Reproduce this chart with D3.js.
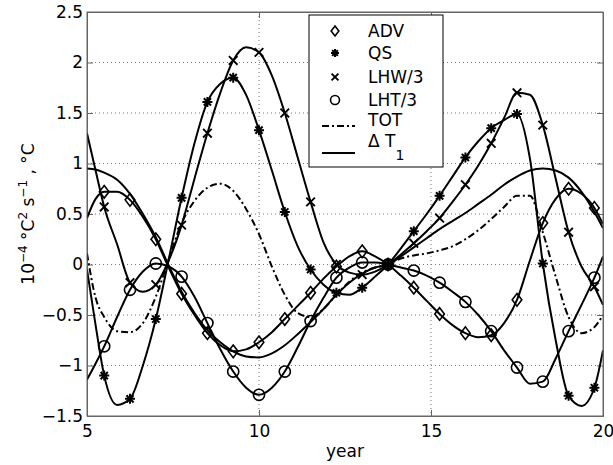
<!DOCTYPE html>
<html lang="en">
<head>
    <meta charset="UTF-8">
    <title>Budget terms vs year</title>
    <style>
        body { margin: 0; background: #fff; }
        svg text { font-family: "DejaVu Sans", sans-serif; fill: #000; }
        .grid line { stroke: #777; stroke-width: 1; stroke-dasharray: 1,3; }
        .axis path, .axis line { stroke: #666; }
        .curve { fill: none; stroke: #000; stroke-width: 2; }
        .mark { fill: none; stroke: #000; stroke-width: 1.6; }
    </style>
</head>
<body>
    <svg width="613" height="465"></svg>
    <script src="https://d3js.org/d3.v7.min.js"></script>
    <script>
        // years sampled along the curves; markers sit every 0.75 yr from 5.5
        const years = [5, 5.25, 5.5, 5.875, 6.25, 6.625, 7, 7.375, 7.75, 8.125, 8.5, 8.875, 9.25, 9.625,
                       10, 10.375, 10.75, 11.125, 11.5, 11.875, 12.25, 12.625, 13, 13.375, 13.75, 14.125,
                       14.5, 14.875, 15.25, 15.625, 16, 16.375, 16.75, 17.125, 17.5, 17.875, 18.25, 18.625,
                       19, 19.375, 19.75, 20];

        const adv = [0.46, 0.65, 0.72, 0.72, 0.64, 0.47, 0.25, -0.03, -0.29, -0.5, -0.68, -0.8, -0.86, -0.84,
                     -0.77, -0.67, -0.54, -0.41, -0.28, -0.14, -0.02, 0.08, 0.13, 0.08, 0, -0.11,
                     -0.23, -0.36, -0.49, -0.6, -0.68, -0.72, -0.7, -0.58, -0.35, 0.04, 0.41, 0.65,
                     0.75, 0.7, 0.56, 0.4];
        const qs = [-0.05, -0.6, -1.1, -1.39, -1.33, -1.0, -0.54, 0.05, 0.66, 1.2, 1.61, 1.79, 1.85, 1.68,
                    1.33, 0.93, 0.52, 0.18, -0.05, -0.2, -0.28, -0.3, -0.23, -0.12, 0, 0.16,
                    0.33, 0.5, 0.68, 0.87, 1.06, 1.22, 1.35, 1.43, 1.49, 1.05, 0.01, -0.75,
                    -1.3, -1.4, -1.22, -0.85];
        const lhw = [1.3, 0.93, 0.57, 0.2, -0.18, -0.27, -0.2, 0.04, 0.39, 0.85, 1.3, 1.7, 2.02, 2.15,
                     2.1, 1.87, 1.5, 1.06, 0.62, 0.22, 0.0, -0.08, -0.1, -0.07, 0, 0.1,
                     0.21, 0.33, 0.46, 0.62, 0.79, 0.98, 1.2, 1.45, 1.7, 1.68, 1.38, 0.85,
                     0.32, -0.02, -0.22, -0.4];
        const lht = [-1.14, -0.98, -0.81, -0.52, -0.25, -0.07, 0.01, -0.02, -0.12, -0.32, -0.58, -0.84, -1.06, -1.22,
                     -1.29, -1.22, -1.06, -0.82, -0.56, -0.33, -0.13, -0.03, 0.02, 0.02, 0, -0.03,
                     -0.06, -0.11, -0.18, -0.27, -0.37, -0.5, -0.66, -0.85, -1.02, -1.18, -1.16, -0.93,
                     -0.66, -0.4, -0.13, 0.08];
        const tot = [0.11, -0.33, -0.52, -0.66, -0.67, -0.58, -0.32, 0.05, 0.41, 0.63, 0.76, 0.8, 0.73, 0.55,
                     0.3, -0.02, -0.3, -0.48, -0.52, -0.44, -0.3, -0.17, -0.08, -0.03, 0, 0.06,
                     0.09, 0.11, 0.14, 0.18, 0.25, 0.34, 0.45, 0.57, 0.68, 0.68, 0.32, -0.12,
                     -0.52, -0.68, -0.62, -0.5];
        const dT1 = [0.95, 0.94, 0.91, 0.84, 0.7, 0.5, 0.27, -0.01, -0.27, -0.48, -0.65, -0.77, -0.86, -0.91,
                     -0.92, -0.88, -0.8, -0.69, -0.57, -0.44, -0.3, -0.18, -0.09, -0.03, 0, 0.08,
                     0.17, 0.26, 0.35, 0.43, 0.51, 0.6, 0.69, 0.79, 0.87, 0.93, 0.95, 0.93,
                     0.86, 0.72, 0.52, 0.36];

        const xTicks = [5, 10, 15, 20];
        const yTicks = [-1.5, -1, -0.5, 0, 0.5, 1, 1.5, 2, 2.5];

        const svg = d3.select("svg");
        const pl = 87, pr = 603, pt = 12, pb = 416;

        const x = d3.scaleLinear().domain([5, 20]).range([pl, pr]);
        const y = d3.scaleLinear().domain([-1.5, 2.5]).range([pb, pt]);

        // dotted grid
        const grid = svg.append("g").attr("class", "grid");
        grid.selectAll(".gx").data(xTicks.slice(1, -1)).enter().append("line")
            .attr("x1", d => x(d)).attr("x2", d => x(d)).attr("y1", pt).attr("y2", pb);
        grid.selectAll(".gy").data(yTicks.slice(1, -1)).enter().append("line")
            .attr("x1", pl).attr("x2", pr).attr("y1", d => y(d)).attr("y2", d => y(d));

        const fmt = d3.format("~g");

        // axes, ticks pointing inward (box on all four sides)
        svg.append("g").attr("class", "axis")
            .attr("transform", "translate(0," + pb + ")")
            .call(d3.axisBottom(x).tickValues(xTicks).tickSize(-6).tickPadding(9).tickFormat(fmt))
            .call(g => g.selectAll("text").style("font-size", "17px"));
        svg.append("g").attr("class", "axis")
            .attr("transform", "translate(" + pl + ",0)")
            .call(d3.axisLeft(y).tickValues(yTicks).tickSize(-6).tickPadding(4).tickFormat(fmt))
            .call(g => g.selectAll("text").style("font-size", "17px"));
        svg.append("g").attr("class", "axis")
            .attr("transform", "translate(0," + pt + ")")
            .call(d3.axisTop(x).tickValues(xTicks).tickSize(-6).tickFormat(""));
        svg.append("g").attr("class", "axis")
            .attr("transform", "translate(" + pr + ",0)")
            .call(d3.axisRight(y).tickValues(yTicks).tickSize(-6).tickFormat(""));

        svg.append("text")
            .attr("x", (pl + pr) / 2).attr("y", 457)
            .attr("text-anchor", "middle").style("font-size", "17px")
            .text("year");

        const ylab = svg.append("text")
            .attr("transform", "translate(34," + (pt + pb) / 2 + ") rotate(-90)")
            .attr("text-anchor", "middle").style("font-size", "17px");
        ylab.append("tspan").text("10");
        ylab.append("tspan").attr("dy", "-7").style("font-size", "12px").text("\u22124");
        ylab.append("tspan").attr("dy", "7").text(" \u00b0C");
        ylab.append("tspan").attr("dy", "-7").style("font-size", "12px").text("2");
        ylab.append("tspan").attr("dy", "7").text(" s");
        ylab.append("tspan").attr("dy", "-7").style("font-size", "12px").text("\u22121");
        ylab.append("tspan").attr("dy", "7").text(" , \u00b0C");

        // curves
        svg.append("clipPath").attr("id", "clip")
            .append("rect").attr("x", pl).attr("y", pt).attr("width", pr - pl).attr("height", pb - pt);
        const plot = svg.append("g").attr("clip-path", "url(#clip)");

        const line = d3.line().x((d, i) => x(years[i])).y(d => y(d)).curve(d3.curveMonotoneX);

        const series = [
            { key: "ADV", values: adv, marker: "diamond" },
            { key: "QS", values: qs, marker: "star" },
            { key: "LHW/3", values: lhw, marker: "cross" },
            { key: "LHT/3", values: lht, marker: "circle" },
            { key: "TOT", values: tot, dash: "7,3,2,3" },
            { key: "dT1", values: dT1 }
        ];

        series.forEach(s => {
            plot.append("path").attr("class", "curve")
                .attr("d", line(s.values))
                .attr("stroke-dasharray", s.dash || null);
        });

        function drawMarker(g, type, k) {
            if (type === "diamond") {
                g.append("path").attr("class", "mark")
                    .attr("d", "M0," + (-6.3 * k) + "L" + (4.8 * k) + ",0L0," + (6.3 * k) + "L" + (-4.8 * k) + ",0Z");
            } else if (type === "circle") {
                g.append("circle").attr("class", "mark").attr("r", 5.6 * k);
            } else if (type === "cross") {
                const a = 4.3 * k;
                g.append("path").attr("class", "mark").style("stroke-width", 1.9)
                    .attr("d", "M" + -a + "," + -a + "L" + a + "," + a + "M" + -a + "," + a + "L" + a + "," + -a);
            } else if (type === "star") {
                const a = 5 * k, b = 3.6 * k;
                g.append("path").attr("class", "mark").style("stroke-width", 2)
                    .attr("d", "M0," + -a + "V" + a + "M" + -a + ",0H" + a +
                               "M" + -b + "," + -b + "L" + b + "," + b + "M" + -b + "," + b + "L" + b + "," + -b);
            }
        }

        const markIdx = years.map((yr, i) => i).filter(i => years[i] >= 5.5 && ((years[i] - 5.5) / 0.75) % 1 === 0);

        series.filter(s => s.marker).forEach(s => {
            markIdx.forEach(i => {
                const g = plot.append("g").attr("transform", "translate(" + x(years[i]) + "," + y(s.values[i]) + ")");
                drawMarker(g, s.marker, 1);
            });
        });

        // plot frame
        svg.append("rect").attr("x", pl).attr("y", pt).attr("width", pr - pl).attr("height", pb - pt)
            .attr("fill", "none").attr("stroke", "#666");

        // legend
        const leg = svg.append("g");
        leg.append("rect").attr("x", 309).attr("y", 15).attr("width", 134).attr("height", 152)
            .attr("fill", "#fff").attr("stroke", "#000");
        const rowY = [31, 53, 77, 100, 120, 141];
        series.forEach((s, i) => {
            const ry = rowY[i];
            if (s.marker) {
                const g = leg.append("g").attr("transform", "translate(335," + ry + ")");
                drawMarker(g, s.marker, 0.8);
            } else {
                const ly = s.dash ? ry + 6 : ry + 12;
                leg.append("line").attr("class", "curve")
                    .attr("x1", 322).attr("x2", 355).attr("y1", ly).attr("y2", ly)
                    .attr("stroke-dasharray", s.dash || null);
            }
            const t = leg.append("text").attr("x", 368).attr("y", ry).attr("dy", "0.36em")
                .style("font-size", "17px");
            if (s.key === "dT1") {
                t.append("tspan").text("\u0394 T");
                t.append("tspan").attr("dy", "13").style("font-size", "14px").text("1");
            } else {
                t.text(s.key);
            }
        });
    </script>
</body>
</html>
